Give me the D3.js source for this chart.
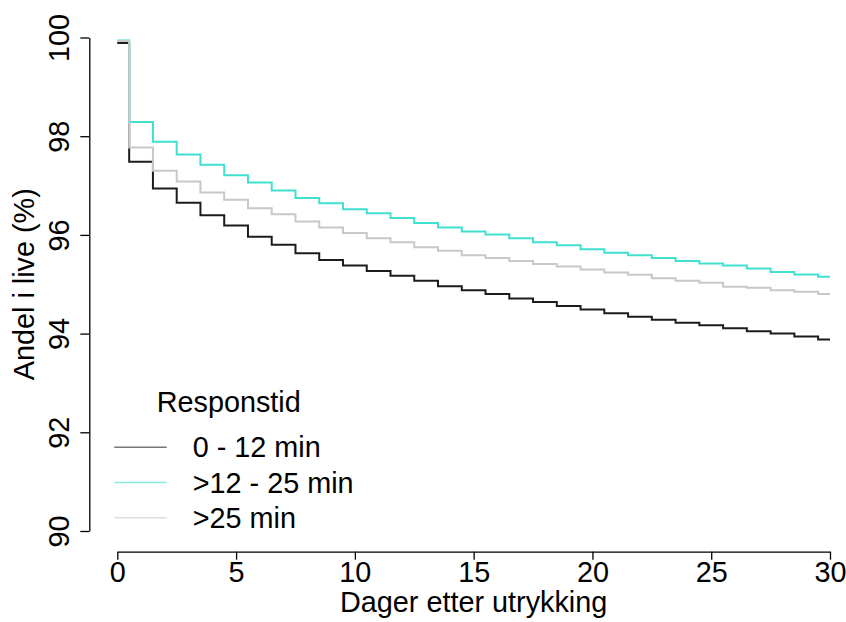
<!DOCTYPE html>
<html>
<head>
<meta charset="utf-8">
<script src="https://cdn.jsdelivr.net/npm/d3@7"></script>
<style>
  html, body { margin: 0; padding: 0; background: #fff; }
  svg { display: block; font-family: "Liberation Sans", Arial, Helvetica, sans-serif; }
</style>
</head>
<body>
<svg id="chart" width="846" height="622"></svg>
<script>
(function() {

// days at which each step begins (last step runs to 30)
var times = [0, 0.5, 1.5, 2.5, 3.5, 4.5, 5.5, 6.5, 7.5, 8.5, 9.5, 10.5, 11.5, 12.5, 13.5, 14.5,
             15.5, 16.5, 17.5, 18.5, 19.5, 20.5, 21.5, 22.5, 23.5, 24.5, 25.5, 26.5, 27.5, 28.5, 29.5];
var endTime = 30;

var surv0to12 = [99.89, 97.48, 96.94, 96.65, 96.40, 96.19, 95.96, 95.80, 95.63, 95.49, 95.38,
                 95.27, 95.17, 95.07, 94.96, 94.88, 94.80, 94.71, 94.64, 94.56, 94.49,
                 94.41, 94.34, 94.28, 94.22, 94.17, 94.11, 94.05, 94.00, 93.94, 93.88];
var surv12to25 = [99.94, 98.29, 97.89, 97.63, 97.42, 97.21, 97.06, 96.90, 96.75, 96.64, 96.52,
                  96.44, 96.34, 96.24, 96.15, 96.07, 96.01, 95.93, 95.85, 95.79, 95.71,
                  95.64, 95.59, 95.53, 95.47, 95.42, 95.38, 95.32, 95.25, 95.20, 95.15];
var surv25plus = [99.93, 97.77, 97.30, 97.08, 96.86, 96.71, 96.54, 96.42, 96.27, 96.15, 96.04,
                  95.93, 95.85, 95.75, 95.68, 95.59, 95.53, 95.47, 95.41, 95.36, 95.30,
                  95.24, 95.19, 95.12, 95.07, 95.03, 94.95, 94.93, 94.88, 94.85, 94.80];

var groupNames = ['0 - 12 min', '>12 - 25 min', '>25 min'];
var groupColors = ['#1c1c1c', '#40e0d0', '#c8c8c8'];
var xTicks = [0, 5, 10, 15, 20, 25, 30];
var yTicks = [90, 92, 94, 96, 98, 100];

var series = [surv0to12, surv12to25, surv25plus];

var svg = d3.select('#chart'),
    fontSize = 28.8;

var x = d3.scaleLinear().domain([0, 30]).range([117.3, 830]),
    y = d3.scaleLinear().domain([90, 100]).range([531, 37.5]);

// curves
var line = d3.line()
  .x(function(d) { return x(d[0]); })
  .y(function(d) { return y(d[1]); })
  .curve(d3.curveStepAfter);

series.forEach(function(vals, i) {
  var pts = times.map(function(t, j) { return [t, vals[j]]; });
  pts.push([endTime, vals[vals.length - 1]]);
  svg.append('path')
    .attr('d', line(pts))
    .attr('fill', 'none')
    .attr('stroke', groupColors[i])
    .attr('stroke-width', 2);
});

// axes
var xAxis = svg.append('g')
  .attr('transform', 'translate(0,551.7)')
  .call(d3.axisBottom(x).tickValues(xTicks).tickSize(8).tickSizeOuter(0));
xAxis.selectAll('text')
  .attr('y', 30).attr('dy', 0)
  .attr('fill', '#000')
  .style('font-size', fontSize + 'px');

var yAxis = svg.append('g')
  .attr('transform', 'translate(89.3,0)')
  .call(d3.axisLeft(y).tickValues(yTicks).tickSize(9).tickSizeOuter(0));
yAxis.selectAll('text')
  .attr('x', 0).attr('y', -20.5).attr('dy', 0)
  .attr('transform', 'rotate(-90)')
  .attr('text-anchor', 'middle')
  .attr('fill', '#000')
  .style('font-size', fontSize + 'px');

svg.selectAll('.domain, .tick line')
  .attr('stroke', '#000')
  .attr('stroke-width', 1.3);
svg.selectAll('.tick').attr('font-family', null);

// titles
svg.append('text')
  .attr('x', (x(0) + x(30)) / 2)
  .attr('y', 611.5)
  .attr('text-anchor', 'middle')
  .style('font-size', fontSize + 'px')
  .text('Dager etter utrykking');

svg.append('text')
  .attr('transform', 'translate(33.5,' + ((y(90) + y(100)) / 2) + ') rotate(-90)')
  .attr('text-anchor', 'middle')
  .style('font-size', fontSize + 'px')
  .text('Andel i live (%)');

// legend
var legend = svg.append('g');
legend.append('text')
  .attr('x', 156.7).attr('y', 412.3)
  .style('font-size', fontSize + 'px')
  .text('Responstid');

groupNames.forEach(function(name, i) {
  var base = 457.3 + i * 35.2;
  legend.append('line')
    .attr('x1', 114.3).attr('x2', 166.7)
    .attr('y1', base - 10).attr('y2', base - 10)
    .attr('stroke', groupColors[i])
    .attr('stroke-opacity', 0.6)
    .attr('stroke-width', 1.5);
  legend.append('text')
    .attr('x', 192.7).attr('y', base)
    .style('font-size', fontSize + 'px')
    .text(name);
});

})();
</script>
</body>
</html>
